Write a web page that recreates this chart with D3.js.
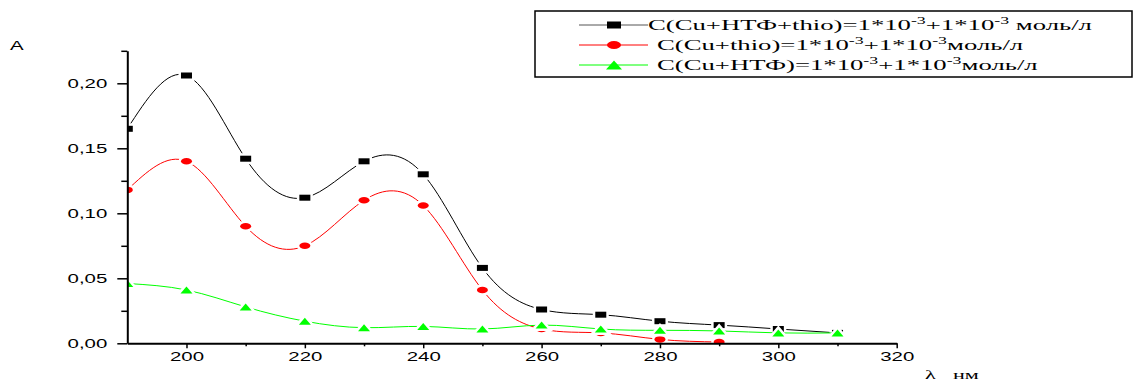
<!DOCTYPE html>
<html>
<head>
<meta charset="utf-8">
<script src="https://cdn.jsdelivr.net/npm/d3@7"></script>
<style>
  html, body { margin: 0; padding: 0; background: #fff; }
  svg { display: block; }
</style>
</head>
<body>
<svg id="chart" width="1137" height="383"></svg>
<script>
// ---------- data ----------
const wavelengths = [190, 200, 210, 220, 230, 240, 250, 260, 270, 280, 290, 300, 310];
const absCuNtfThio = [0.165, 0.206, 0.142, 0.112, 0.140, 0.130, 0.058, 0.026, 0.022, 0.017, 0.014, 0.011, 0.008];
const absCuThio    = [0.118, 0.140, 0.090, 0.075, 0.110, 0.106, 0.041, 0.011, 0.008, 0.003, 0.001];
const absCuNtf     = [0.046, 0.041, 0.028, 0.017, 0.012, 0.013, 0.011, 0.014, 0.011, 0.010, 0.0095, 0.008, 0.008];
const xMajorTicks = [200, 220, 240, 260, 280, 300, 320];
const xMinorTicks = [210, 230, 250, 270, 290, 310];
const yMajorTicks = [0, 0.05, 0.10, 0.15, 0.20];
const yMinorTicks = [0.025, 0.075, 0.125, 0.175, 0.225];
const legendLabels = [
  [["C(Cu+НТФ+thio)=1*10"], ["-3", 1], ["+1*10"], ["-3", 1], ["\u00a0моль/л"]],
  [["C(Cu+thio)=1*10"], ["-3", 1], ["+1*10"], ["-3", 1], ["моль/л"]],
  [["C(Cu+НТФ)=1*10"], ["-3", 1], ["+1*10"], ["-3", 1], ["моль/л"]]
];
const xTitleParts = ["λ", "нм"];
const yTitle = "A";

// ---------- setup ----------
const K = 1.7;   // horizontal stretch of the original picture (axis text)
const KL = 1.78; // legend text stretch
const svg = d3.select("#chart");
const x = d3.scaleLinear().domain([190, 320]).range([127.3, 896.7]);
const y = d3.scaleLinear().domain([0, 0.225]).range([343.3, 50.8]);

function stretch(sel, k) {
  sel.each(function () {
    const w = this.getComputedTextLength();
    d3.select(this).attr("textLength", w * k).attr("lengthAdjust", "spacingAndGlyphs");
  });
}

const series = [
  { vals: absCuNtfThio, color: "#000000", shape: "square" },
  { vals: absCuThio,    color: "#ff0000", shape: "circle" },
  { vals: absCuNtf,     color: "#00ff00", shape: "triangle" }
];

svg.append("defs").append("clipPath").attr("id", "plotclip")
  .append("rect").attr("x", x(190)).attr("y", 0).attr("width", x(320) - x(190) + 20).attr("height", y(0));

function drawMarker(g, shape, cx, cy, w, h, color, halo) {
  let m;
  if (shape === "square") {
    m = g.append("rect").attr("x", cx - w / 2).attr("y", cy - h / 2).attr("width", w).attr("height", h);
  } else if (shape === "circle") {
    m = g.append("ellipse").attr("cx", cx).attr("cy", cy).attr("rx", w / 2).attr("ry", h / 2);
  } else {
    m = g.append("path").attr("d", `M${cx - w / 2},${cy + h / 2}L${cx},${cy - h / 2}L${cx + w / 2},${cy + h / 2}Z`);
  }
  m.attr("fill", color);
  if (halo) m.attr("stroke", "#fff").attr("stroke-width", halo).style("paint-order", "stroke fill");
  return m;
}

const plot = svg.append("g").attr("clip-path", "url(#plotclip)");
const line = d3.line().x(d => x(d[0])).y(d => y(d[1])).curve(d3.curveNatural);

series.forEach(s => {
  const pts = s.vals.map((v, i) => [wavelengths[i], v]);
  const g = plot.append("g");
  g.append("path").datum(pts).attr("d", line)
    .attr("fill", "none").attr("stroke", s.color).attr("stroke-width", 1);
  pts.forEach(p => {
    const w = s.shape === "triangle" ? 12 : 11;
    const h = s.shape === "square" ? 6 : (s.shape === "circle" ? 6.5 : 7);
    drawMarker(g, s.shape, x(p[0]), y(p[1]), w, h, s.color, 5);
  });
});

// ---------- axes ----------
const xAxis = svg.append("g").attr("transform", `translate(0,${y(0)})`)
  .call(d3.axisBottom(x).tickValues(xMajorTicks).tickSize(5).tickSizeOuter(0).tickPadding(4).tickFormat(d3.format("d")));
svg.append("g").attr("transform", `translate(0,${y(0)})`)
  .call(d3.axisBottom(x).tickValues(xMinorTicks).tickSize(3).tickSizeOuter(0).tickFormat(""))
  .call(g => g.select(".domain").remove());
const yAxis = svg.append("g").attr("transform", `translate(${x(190)},0)`)
  .call(d3.axisLeft(y).tickValues(yMajorTicks).tickSize(10).tickSizeOuter(0).tickPadding(10)
    .tickFormat(d => d3.format(".2f")(d).replace(".", ",")));
svg.append("g").attr("transform", `translate(${x(190)},0)`)
  .call(d3.axisLeft(y).tickValues(yMinorTicks).tickSize(6).tickSizeOuter(0).tickFormat(""))
  .call(g => g.select(".domain").remove());

svg.selectAll(".domain").attr("stroke", "#000").attr("stroke-width", 2);
svg.selectAll(".tick line").attr("stroke", "#000").attr("stroke-width", 1.5);
svg.selectAll(".tick text").attr("font-family", "Liberation Sans, Arial, sans-serif").attr("font-size", 12).attr("fill", "#000");
stretch(xAxis.selectAll(".tick text"), K);
stretch(yAxis.selectAll(".tick text"), K);

svg.append("text").attr("x", 10).attr("y", 50).text(yTitle)
  .attr("font-family", "Liberation Sans, Arial, sans-serif").attr("font-size", 12).call(stretch, K);
svg.append("text").attr("x", 925).attr("y", 379).text(xTitleParts[0])
  .attr("font-family", "Liberation Serif, Times New Roman, serif").attr("font-size", 13).call(stretch, K);
svg.append("text").attr("x", 953).attr("y", 379).text(xTitleParts[1])
  .attr("font-family", "Liberation Serif, Times New Roman, serif").attr("font-size", 13).call(stretch, K);

// ---------- legend ----------
const legend = svg.append("g");
legend.append("rect").attr("x", 535).attr("y", 11).attr("width", 597).attr("height", 66)
  .attr("fill", "#fff").attr("stroke", "#000").attr("stroke-width", 1.5);
const rowY = [25, 45, 65];
const textX = [648, 657, 657];
series.forEach((s, i) => {
  legend.append("line").attr("x1", 579).attr("x2", 648).attr("y1", rowY[i]).attr("y2", rowY[i])
    .attr("stroke", s.color === "#000000" ? "#555" : s.color).attr("stroke-width", 1);
  const w = s.shape === "triangle" ? 16 : 14;
  const h = s.shape === "square" ? 7 : (s.shape === "circle" ? 8 : 9);
  drawMarker(legend, s.shape, 614, rowY[i], w, h, s.color, 0);
  const t = legend.append("text").attr("x", textX[i]).attr("y", rowY[i] + 5)
    .attr("font-family", "Liberation Serif, Times New Roman, serif").attr("font-size", 15).attr("fill", "#000");
  let shifted = false;
  legendLabels[i].forEach(part => {
    const ts = t.append("tspan").text(part[0]);
    if (part[1]) { ts.attr("font-size", 10).attr("dy", -6); shifted = true; }
    else if (shifted) { ts.attr("dy", 6); shifted = false; }
  });
  stretch(t, KL);
});
</script>
</body>
</html>
